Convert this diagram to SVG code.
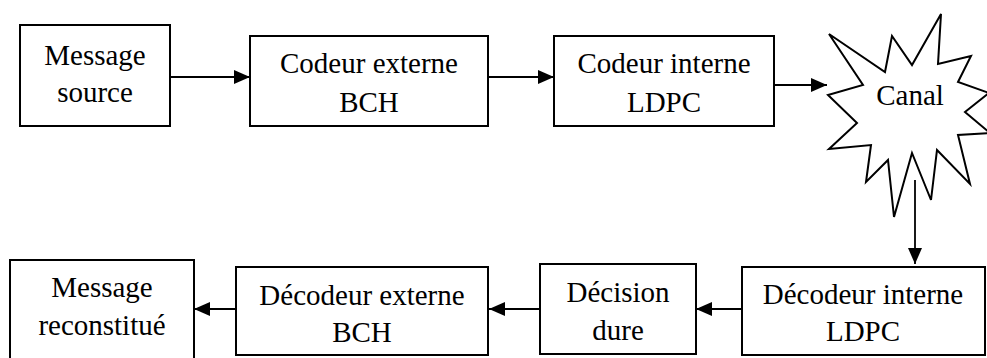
<svg xmlns="http://www.w3.org/2000/svg" width="987" height="358" viewBox="0 0 987 358">
  <style>
    .box { fill: #ffffff; stroke: #000000; stroke-width: 2; }
    .lbl { font-family: 'Liberation Serif', 'DejaVu Serif', serif; font-size: 29px; fill: #000000; text-anchor: middle; }
    .wire { fill: none; stroke: #000000; stroke-width: 1.8; marker-end: url(#head); }
  </style>
  <defs>
    <marker id="head" markerUnits="userSpaceOnUse" markerWidth="16" markerHeight="14" refX="16" refY="7" orient="auto">
      <path d="M0,0 L16,7 L0,14 z" fill="#000000"/>
    </marker>
  </defs>
  <rect width="987" height="358" fill="#ffffff"/>

  <!-- transmit chain -->
  <g font-family="Liberation Serif, DejaVu Serif, serif">
  <g id="message-source">
    <rect class="box" x="20" y="25" width="150" height="101"/>
    <text class="lbl" x="95" y="65">Message</text>
    <text class="lbl" x="95" y="102">source</text>
  </g>
  <g id="codeur-externe">
    <rect class="box" x="250" y="36" width="238" height="90"/>
    <text class="lbl" x="369" y="73">Codeur externe</text>
    <text class="lbl" x="369" y="112">BCH</text>
  </g>
  <g id="codeur-interne">
    <rect class="box" x="554" y="36" width="220" height="90"/>
    <text class="lbl" x="664" y="73">Codeur interne</text>
    <text class="lbl" x="664" y="112">LDPC</text>
  </g>
  <g id="canal">
    <polygon class="box" points="829,34 885,72 892,36 912,65 941,14 938,64 971,56 958,82 989,93 965,112 990,133 958,135 970,184 937,150 931,200 912,153 894,217 888,160 866,182 871,145 829,149 857,123 828,95 863,85"/>
    <text class="lbl" x="910" y="105">Canal</text>
  </g>

  <!-- receive chain -->
  <g id="decodeur-interne">
    <rect class="box" x="742" y="267" width="243" height="88"/>
    <text class="lbl" x="863" y="304">Décodeur interne</text>
    <text class="lbl" x="863" y="341">LDPC</text>
  </g>
  <g id="decision-dure">
    <rect class="box" x="540" y="264" width="156" height="90"/>
    <text class="lbl" x="618" y="302">Décision</text>
    <text class="lbl" x="618" y="340">dure</text>
  </g>
  <g id="decodeur-externe">
    <rect class="box" x="236" y="267" width="252" height="88"/>
    <text class="lbl" x="362" y="305">Décodeur externe</text>
    <text class="lbl" x="362" y="342">BCH</text>
  </g>
  <g id="message-reconstitue">
    <rect class="box" x="10" y="260" width="184" height="102"/>
    <text class="lbl" x="102" y="297">Message</text>
    <text class="lbl" x="102" y="335">reconstitué</text>
  </g>
  </g>

  <g id="connectors">
    <path class="wire" d="M170,77 H250"/>
    <path class="wire" d="M488,77 H554"/>
    <path class="wire" d="M774,85 H827"/>
    <path class="wire" d="M915,180 V264"/>
    <path class="wire" d="M742,309 H696"/>
    <path class="wire" d="M540,309 H489"/>
    <path class="wire" d="M236,309 H194"/>
  </g>
</svg>
